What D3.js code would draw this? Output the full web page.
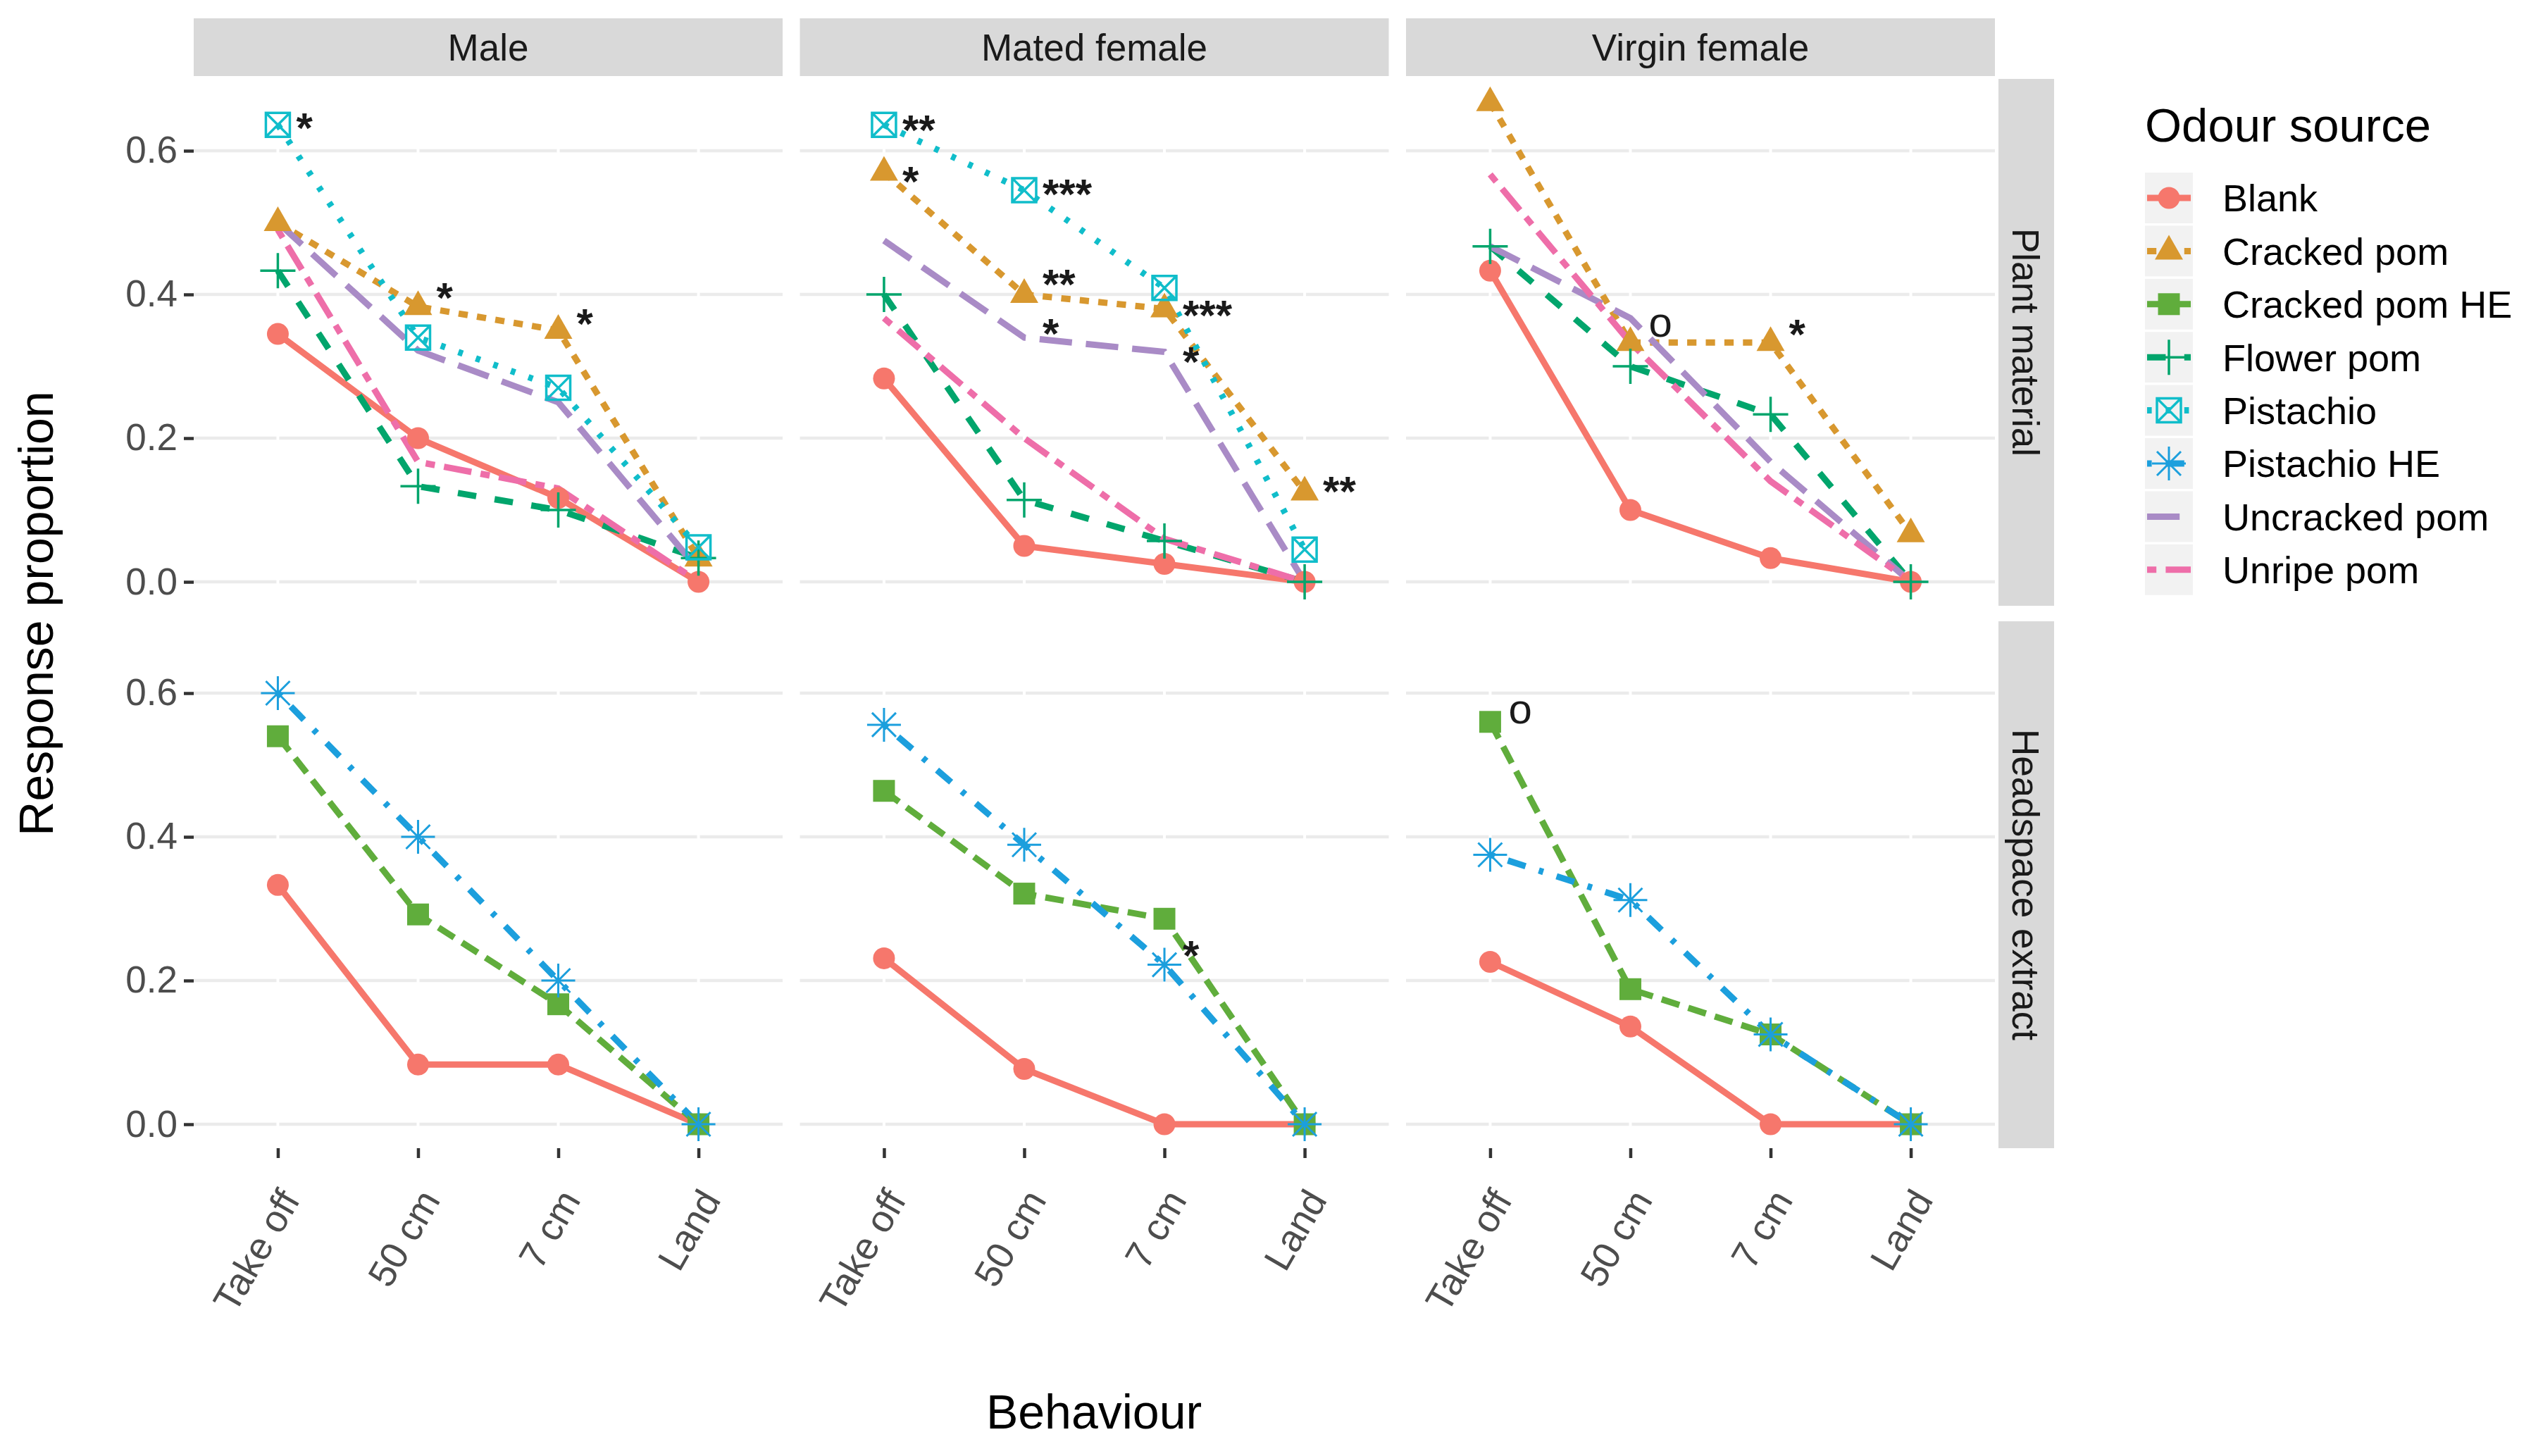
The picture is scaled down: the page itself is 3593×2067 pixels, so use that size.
<!DOCTYPE html>
<html lang="en">
<head>
<meta charset="UTF-8">
<title>Response proportion by behaviour</title>
<script src="https://d3js.org/d3.v7.min.js"></script>
<style>
    body {
        margin: 0;
        padding: 0;
        background-color: #fff;
    }

    svg {
        display: block;
        font-family: "Liberation Sans", Arial, sans-serif;
    }
</style>
</head>
<body>
<svg id="chart" width="3593" height="2067"></svg>
<script>
    // ---- data ----
    var behaviours = ["Take off", "50 cm", "7 cm", "Land"];
    var sexes = ["Male", "Mated female", "Virgin female"];
    var materials = ["Plant material", "Headspace extract"];
    var odours = ["Blank", "Cracked pom", "Cracked pom HE", "Flower pom", "Pistachio", "Pistachio HE", "Uncracked pom", "Unripe pom"];

    var plantOdours = ["Blank", "Cracked pom", "Flower pom", "Pistachio", "Uncracked pom", "Unripe pom"];
    var extractOdours = ["Blank", "Cracked pom HE", "Pistachio HE"];

    // one row per plantOdours entry, values per behaviour
    var malePlant = [
        [0.345, 0.200, 0.117, 0.000],
        [0.500, 0.383, 0.350, 0.033],
        [0.433, 0.133, 0.100, 0.033],
        [0.636, 0.340, 0.270, 0.048],
        [0.500, 0.322, 0.250, 0.017],
        [0.490, 0.167, 0.130, 0.000]
    ];
    var matedPlant = [
        [0.283, 0.050, 0.025, 0.000],
        [0.570, 0.400, 0.380, 0.125],
        [0.400, 0.114, 0.057, 0.000],
        [0.636, 0.545, 0.409, 0.045],
        [0.475, 0.340, 0.320, 0.000],
        [0.367, 0.200, 0.060, 0.000]
    ];
    var virginPlant = [
        [0.433, 0.100, 0.033, 0.000],
        [0.667, 0.333, 0.333, 0.067],
        [0.467, 0.300, 0.233, 0.000],
        null,
        [0.467, 0.367, 0.167, 0.000],
        [0.567, 0.333, 0.140, 0.000]
    ];

    // one row per extractOdours entry
    var maleExtract = [
        [0.333, 0.083, 0.083, 0.000],
        [0.540, 0.292, 0.167, 0.000],
        [0.600, 0.400, 0.200, 0.000]
    ];
    var matedExtract = [
        [0.231, 0.077, 0.000, 0.000],
        [0.464, 0.321, 0.286, 0.000],
        [0.556, 0.389, 0.222, 0.000]
    ];
    var virginExtract = [
        [0.226, 0.136, 0.000, 0.000],
        [0.560, 0.188, 0.125, 0.000],
        [0.375, 0.312, 0.125, 0.000]
    ];

    // significance labels: sex, material, behaviour, label height, text
    var sigLabels = [
        ["Male", "Plant material", "Take off", 0.646, "*"],
        ["Male", "Plant material", "50 cm", 0.409, "*"],
        ["Male", "Plant material", "7 cm", 0.373, "*"],
        ["Mated female", "Plant material", "Take off", 0.643, "**"],
        ["Mated female", "Plant material", "Take off", 0.571, "*"],
        ["Mated female", "Plant material", "50 cm", 0.553, "***"],
        ["Mated female", "Plant material", "50 cm", 0.428, "**"],
        ["Mated female", "Plant material", "50 cm", 0.359, "*"],
        ["Mated female", "Plant material", "7 cm", 0.385, "***"],
        ["Mated female", "Plant material", "7 cm", 0.320, "*"],
        ["Mated female", "Plant material", "Land", 0.140, "**"],
        ["Virgin female", "Plant material", "50 cm", 0.356, "o"],
        ["Virgin female", "Plant material", "7 cm", 0.358, "*"],
        ["Mated female", "Headspace extract", "7 cm", 0.249, "*"],
        ["Virgin female", "Headspace extract", "Take off", 0.573, "o"]
    ];

    var yTicks = [0, 0.2, 0.4, 0.6];

    // ---- styles ----
    var odourColours = ["#F6776C", "#D8982F", "#60AD3C", "#01A56C", "#10BDCA", "#1C9FDD", "#A98BC6", "#EE6EA9"];
    var odourDash = ["", "2 2", "4 2", "4 4", "1 3", "1 3 4 3", "7 3", "2 2 6 2"];
    var odourShape = ["circle", "triangle", "square", "plus", "squarecross", "asterisk", null, null];

    var lineW = 9;
    var dashUnit = 6.6;

    var panelW = 836, rowH = 748;
    var panelLeft = [275, 1135.5, 1996];
    var rowTop = [112, 882];

    var tableFor = {
        "Male": { "Plant material": malePlant, "Headspace extract": maleExtract },
        "Mated female": { "Plant material": matedPlant, "Headspace extract": matedExtract },
        "Virgin female": { "Plant material": virginPlant, "Headspace extract": virginExtract }
    };
    var odourListFor = { "Plant material": plantOdours, "Headspace extract": extractOdours };

    var svg = d3.select("#chart");

    var x = d3.scalePoint().domain(behaviours).range([0, panelW]).padding(0.6);
    var y = d3.scaleLinear().domain([-0.0333, 0.7]).range([rowH, 0]);

    function dashFor(i) {
        if (!odourDash[i]) return null;
        return odourDash[i].split(" ").map(function (n) { return +n * dashUnit; }).join(",");
    }

    function drawMarker(g, shape, col) {
        if (shape === "circle") {
            g.append("circle").attr("r", 15.5).attr("fill", col);
        } else if (shape === "triangle") {
            g.append("path").attr("d", "M0,-23L20,12L-20,12Z").attr("fill", col);
        } else if (shape === "square") {
            g.append("rect").attr("x", -15.5).attr("y", -15.5).attr("width", 31).attr("height", 31).attr("fill", col);
        } else if (shape === "plus") {
            g.append("path").attr("d", "M-25,0H25M0,-25V25")
                .attr("stroke", col).attr("stroke-width", 3.5).attr("fill", "none");
        } else if (shape === "squarecross") {
            g.append("path").attr("d", "M-17,-17H17V17H-17ZM-17,-17L17,17M17,-17L-17,17")
                .attr("stroke", col).attr("stroke-width", 3.5).attr("fill", "none");
        } else if (shape === "asterisk") {
            g.append("path").attr("d", "M-24,0H24M0,-24V24M-17,-17L17,17M17,-17L-17,17")
                .attr("stroke", col).attr("stroke-width", 3).attr("fill", "none");
        }
    }

    var line = d3.line()
        .x(function (d, i) { return x(behaviours[i]); })
        .y(function (d) { return y(d); });

    materials.forEach(function (mat, r) {
        sexes.forEach(function (sex, c) {
            var panel = svg.append("g")
                .attr("transform", "translate(" + panelLeft[c] + "," + rowTop[r] + ")");

            // grid
            panel.selectAll(".hgrid").data(yTicks).enter().append("line")
                .attr("x1", 0).attr("x2", panelW)
                .attr("y1", function (d) { return y(d); })
                .attr("y2", function (d) { return y(d); })
                .attr("stroke", "#EBEBEB").attr("stroke-width", 4.5);
            panel.selectAll(".vgrid").data(behaviours).enter().append("line")
                .attr("x1", function (d) { return x(d); })
                .attr("x2", function (d) { return x(d); })
                .attr("y1", 0).attr("y2", rowH)
                .attr("stroke", "#fff").attr("stroke-width", 4);

            var table = tableFor[sex][mat];
            var names = odourListFor[mat];

            // lines
            names.forEach(function (name, k) {
                var vals = table[k];
                if (!vals) return;
                var oi = odours.indexOf(name);
                panel.append("path")
                    .attr("d", line(vals))
                    .attr("fill", "none")
                    .attr("stroke", odourColours[oi])
                    .attr("stroke-width", lineW)
                    .attr("stroke-dasharray", dashFor(oi));
            });

            // points
            names.forEach(function (name, k) {
                var vals = table[k];
                if (!vals) return;
                var oi = odours.indexOf(name);
                if (!odourShape[oi]) return;
                vals.forEach(function (v, i) {
                    var g = panel.append("g")
                        .attr("transform", "translate(" + x(behaviours[i]) + "," + y(v) + ")");
                    drawMarker(g, odourShape[oi], odourColours[oi]);
                });
            });

            // significance labels
            sigLabels.filter(function (s) { return s[0] === sex && s[1] === mat; })
                .forEach(function (s) {
                    var fs = 60;
                    var lift = s[4] === "o" ? 0.26 : 0.575;
                    panel.append("text")
                        .attr("x", x(s[2]) + 26)
                        .attr("y", y(s[3]) + lift * fs)
                        .attr("font-size", fs)
                        .attr("font-weight", s[4] === "o" ? "normal" : "bold")
                        .attr("fill", "#1A1A1A")
                        .text(s[4]);
                });

            // axes
            if (c === 0) {
                var ya = panel.append("g")
                    .call(d3.axisLeft(y).tickValues(yTicks).tickFormat(d3.format(".1f")).tickSize(14).tickPadding(9));
                ya.select(".domain").remove();
                ya.selectAll("line").attr("stroke", "#333").attr("stroke-width", 4.5);
                ya.selectAll("text").attr("font-size", 53).attr("fill", "#4D4D4D")
                    .attr("font-family", "Liberation Sans, Arial, sans-serif");
            }
            if (r === materials.length - 1) {
                var xa = panel.append("g")
                    .attr("transform", "translate(0," + rowH + ")")
                    .call(d3.axisBottom(x).tickSize(14));
                xa.select(".domain").remove();
                xa.selectAll("line").attr("stroke", "#333").attr("stroke-width", 4.5);
                xa.selectAll("text")
                    .attr("x", 0).attr("y", 0).attr("dy", "0.35em")
                    .attr("text-anchor", "end")
                    .attr("transform", "translate(16,64) rotate(-60)")
                    .attr("font-size", 54).attr("fill", "#4D4D4D")
                    .attr("font-family", "Liberation Sans, Arial, sans-serif");
            }
        });
    });

    // top strips
    sexes.forEach(function (sex, c) {
        svg.append("rect")
            .attr("x", panelLeft[c]).attr("y", 26)
            .attr("width", panelW).attr("height", 82)
            .attr("fill", "#D9D9D9");
        svg.append("text")
            .attr("x", panelLeft[c] + panelW / 2).attr("y", 67)
            .attr("dy", "0.36em")
            .attr("text-anchor", "middle")
            .attr("font-size", 53).attr("fill", "#1A1A1A")
            .text(sex);
    });

    // right strips
    materials.forEach(function (mat, r) {
        svg.append("rect")
            .attr("x", 2837).attr("y", rowTop[r])
            .attr("width", 79).attr("height", rowH)
            .attr("fill", "#D9D9D9");
        svg.append("text")
            .attr("transform", "translate(2876.5," + (rowTop[r] + rowH / 2) + ") rotate(90)")
            .attr("dy", "0.36em")
            .attr("text-anchor", "middle")
            .attr("font-size", 53).attr("fill", "#1A1A1A")
            .text(mat);
    });

    // axis titles
    svg.append("text")
        .attr("transform", "translate(75,871) rotate(-90)")
        .attr("text-anchor", "middle")
        .attr("font-size", 68).attr("fill", "#000")
        .text("Response proportion");
    svg.append("text")
        .attr("x", 1553).attr("y", 2028)
        .attr("text-anchor", "middle")
        .attr("font-size", 68).attr("fill", "#000")
        .text("Behaviour");

    // legend
    var legend = svg.append("g").attr("transform", "translate(3045,0)");
    legend.append("text")
        .attr("x", 0).attr("y", 201)
        .attr("font-size", 67).attr("fill", "#000")
        .text("Odour source");

    odours.forEach(function (name, i) {
        var cy = 281 + i * 75.4;
        var key = legend.append("g").attr("transform", "translate(0," + cy + ")");
        key.append("rect")
            .attr("x", 0).attr("y", -36).attr("width", 68).attr("height", 72)
            .attr("fill", "#F2F2F2");
        key.append("line")
            .attr("x1", 3).attr("x2", 65).attr("y1", 0).attr("y2", 0)
            .attr("stroke", odourColours[i])
            .attr("stroke-width", lineW)
            .attr("stroke-dasharray", dashFor(i));
        if (odourShape[i]) {
            var mk = key.append("g").attr("transform", "translate(34,0)");
            drawMarker(mk, odourShape[i], odourColours[i]);
        }
        legend.append("text")
            .attr("x", 110).attr("y", cy)
            .attr("dy", "0.36em")
            .attr("font-size", 54).attr("fill", "#000")
            .text(name);
    });
</script>
</body>
</html>
